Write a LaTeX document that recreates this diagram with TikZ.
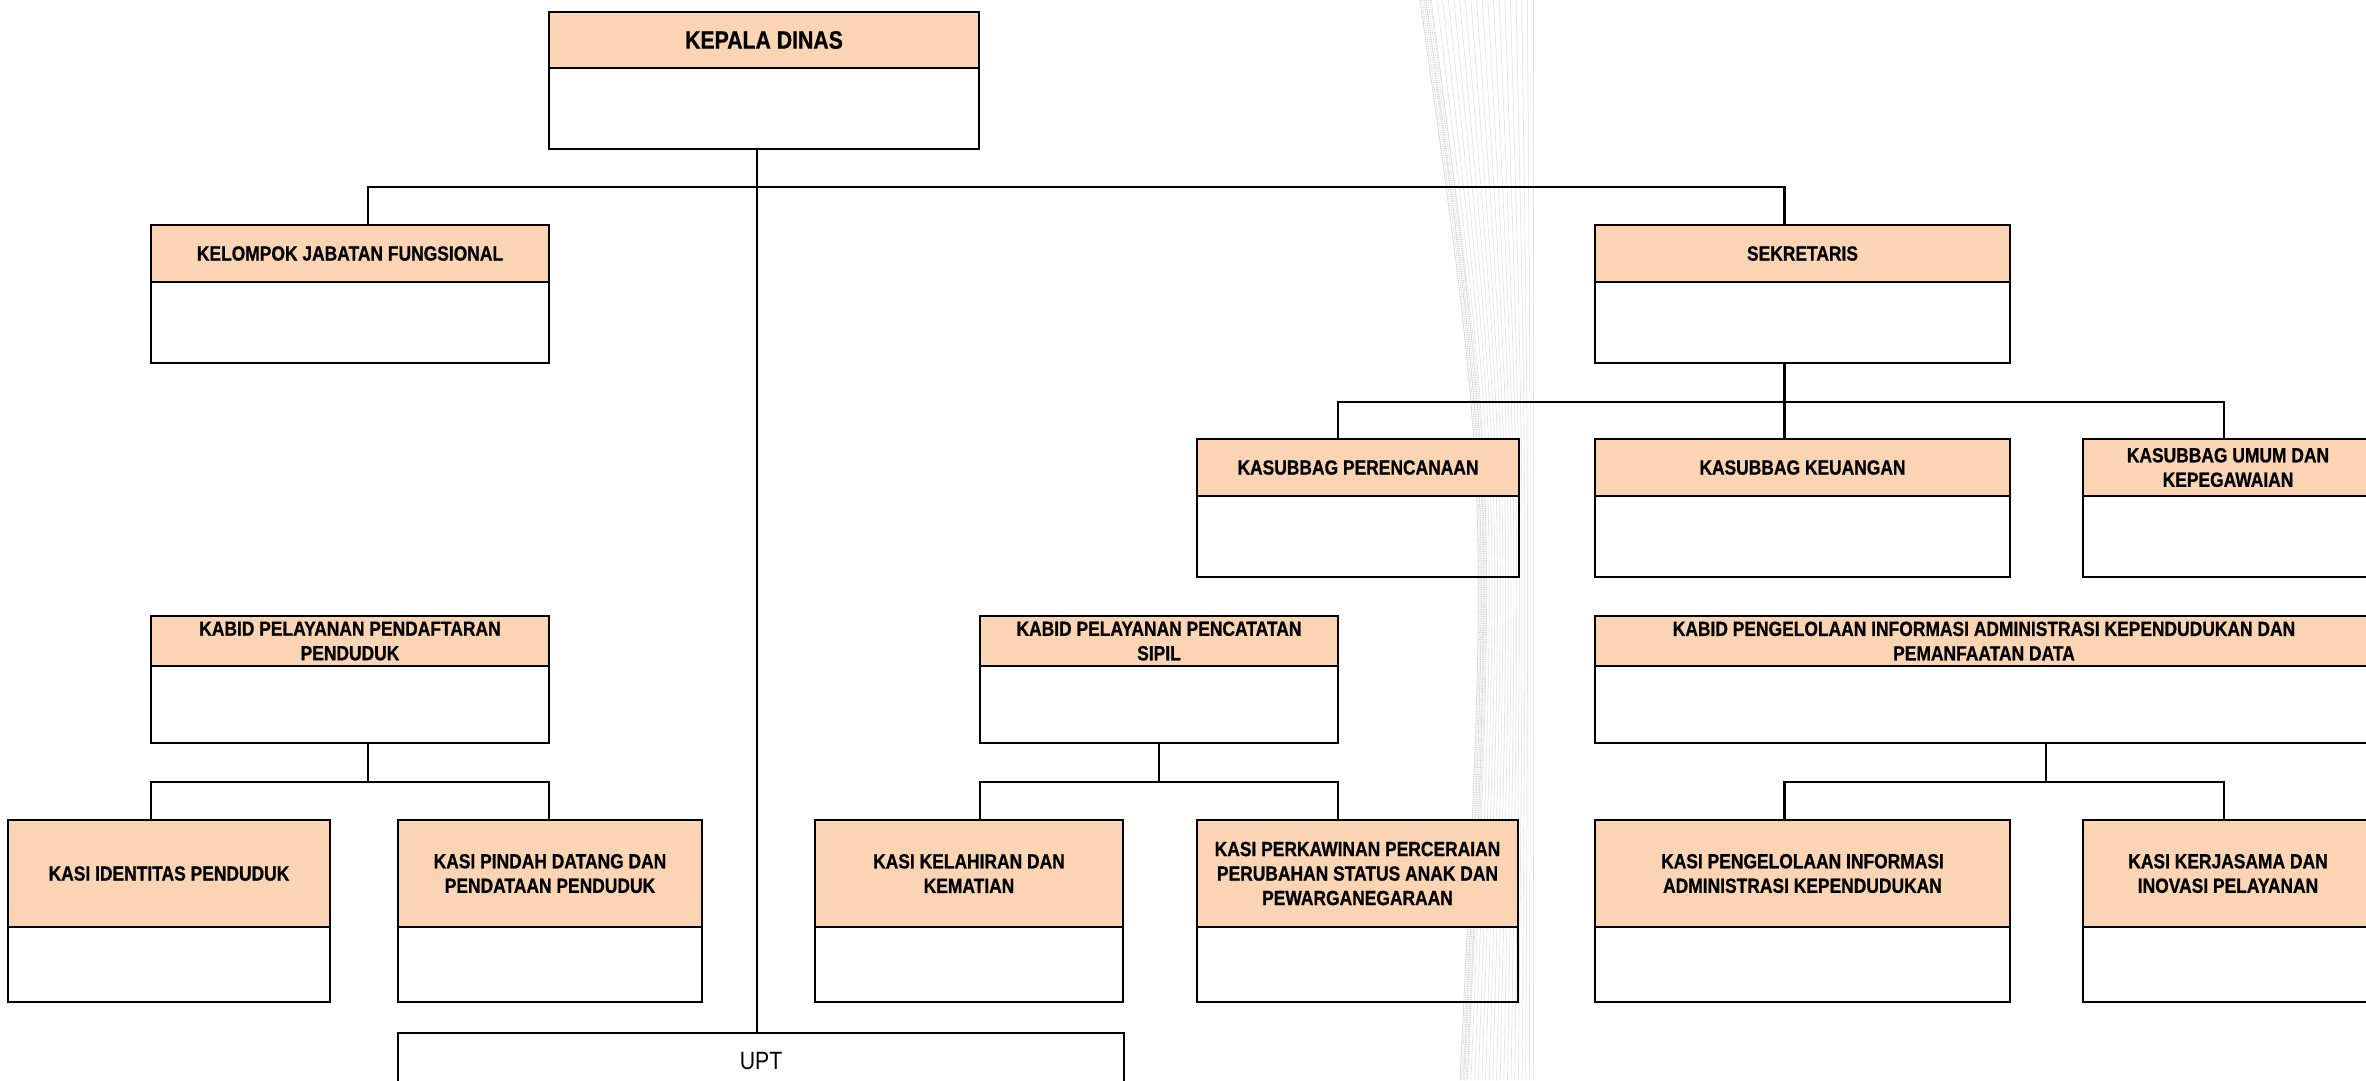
\documentclass[tikz,border=0pt]{standalone}
\usepackage{fontspec}
\newfontfamily\boxfont{Liberation Sans}[FakeStretch=0.85,BoldFeatures={FakeBold=0.8}]
\usetikzlibrary{positioning}
\definecolor{peach}{HTML}{FBD4B4}
\begin{document}
\begin{tikzpicture}[x=1pt,y=-1pt,line width=2.4pt,
  head/.style={draw,fill=peach,anchor=north west,align=center,inner sep=0pt,outer sep=0pt,
    font=\boxfont\bfseries\fontsize{20.5}{24.5}\selectfont},
  body/.style={draw,inner sep=0pt,outer sep=0pt},
  wmark/.style={gray!22,line width=0.7pt}]

\useasboundingbox (0,0) rectangle (2366,1080);
\fill[white] (0,0) rectangle (2366,1080);
\clip (0,0) rectangle (2366,1080);

%watermark
\foreach \i in {0,...,20}{
  \pgfmathsetmacro{\wt}{\i/20}
  \pgfmathsetmacro{\xa}{1420+113*\wt}
  \pgfmathsetmacro{\xc}{1489+44*\wt}
  \pgfmathsetmacro{\xb}{1460+73*\wt}
  \draw[wmark] (\xa,0) .. controls (\xc,487) .. (\xb,1080);
}
\foreach \i in {0,...,5}{
  \pgfmathsetmacro{\xa}{1420+2*\i}
  \pgfmathsetmacro{\xc}{1489+1.5*\i}
  \pgfmathsetmacro{\xb}{1460+1.5*\i}
  \draw[gray!35,line width=0.8pt,densely dotted] (\xa,0) .. controls (\xc,487) .. (\xb,1080);
}

%KEPALA DINAS
\node[head,minimum width=430pt,minimum height=56pt,font=\boxfont\bfseries\fontsize{25}{30}\selectfont] (kd) at (549,12) {KEPALA DINAS};
\node[body,minimum width=430pt,minimum height=81pt,below=0pt of kd] (kd-b) {};

%baris 1
\node[head,minimum width=398pt,minimum height=57pt] (kjf) at (151,225) {KELOMPOK JABATAN FUNGSIONAL};
\node[body,minimum width=398pt,minimum height=81pt,below=0pt of kjf] (kjf-b) {};
\node[head,minimum width=415pt,minimum height=57pt] (sek) at (1595,225) {SEKRETARIS};
\node[body,minimum width=415pt,minimum height=81pt,below=0pt of sek] (sek-b) {};

%baris 2
\node[head,minimum width=322pt,minimum height=57pt] (per) at (1197,439) {KASUBBAG PERENCANAAN};
\node[body,minimum width=322pt,minimum height=81pt,below=0pt of per] (per-b) {};
\node[head,minimum width=415pt,minimum height=57pt] (keu) at (1595,439) {KASUBBAG KEUANGAN};
\node[body,minimum width=415pt,minimum height=81pt,below=0pt of keu] (keu-b) {};
\node[head,minimum width=290pt,minimum height=57pt] (umum) at (2083,439) {KASUBBAG UMUM DAN\\KEPEGAWAIAN};
\node[body,minimum width=290pt,minimum height=81pt,below=0pt of umum] (umum-b) {};

%baris 3
\node[head,minimum width=398pt,minimum height=50pt] (kpp) at (151,616) {KABID PELAYANAN PENDAFTARAN\\PENDUDUK};
\node[body,minimum width=398pt,minimum height=77pt,below=0pt of kpp] (kpp-b) {};
\node[head,minimum width=358pt,minimum height=50pt] (kpc) at (980,616) {KABID PELAYANAN PENCATATAN\\SIPIL};
\node[body,minimum width=358pt,minimum height=77pt,below=0pt of kpc] (kpc-b) {};
\node[head,minimum width=778pt,minimum height=50pt] (kpi) at (1595,616) {KABID PENGELOLAAN INFORMASI ADMINISTRASI KEPENDUDUKAN DAN\\PEMANFAATAN DATA};
\node[body,minimum width=778pt,minimum height=77pt,below=0pt of kpi] (kpi-b) {};

%baris 4
\node[head,minimum width=322pt,minimum height=107pt] (idn) at (8,820) {KASI IDENTITAS PENDUDUK};
\node[body,minimum width=322pt,minimum height=75pt,below=0pt of idn] (idn-b) {};
\node[head,minimum width=304pt,minimum height=107pt] (pdh) at (398,820) {KASI PINDAH DATANG DAN\\PENDATAAN PENDUDUK};
\node[body,minimum width=304pt,minimum height=75pt,below=0pt of pdh] (pdh-b) {};
\node[head,minimum width=308pt,minimum height=107pt] (lhr) at (815,820) {KASI KELAHIRAN DAN\\KEMATIAN};
\node[body,minimum width=308pt,minimum height=75pt,below=0pt of lhr] (lhr-b) {};
\node[head,minimum width=321pt,minimum height=107pt] (kwn) at (1197,820) {KASI PERKAWINAN PERCERAIAN\\PERUBAHAN STATUS ANAK DAN\\PEWARGANEGARAAN};
\node[body,minimum width=321pt,minimum height=75pt,below=0pt of kwn] (kwn-b) {};
\node[head,minimum width=415pt,minimum height=107pt] (pia) at (1595,820) {KASI PENGELOLAAN INFORMASI\\ADMINISTRASI KEPENDUDUKAN};
\node[body,minimum width=415pt,minimum height=75pt,below=0pt of pia] (pia-b) {};
\node[head,minimum width=290pt,minimum height=107pt] (krj) at (2083,820) {KASI KERJASAMA DAN\\INOVASI PELAYANAN};
\node[body,minimum width=290pt,minimum height=75pt,below=0pt of krj] (krj-b) {};

%UPT
\node[head,fill=none,minimum width=726pt,minimum height=56pt,font=\boxfont\fontsize{25}{30}\selectfont] (upt) at (398,1033) {UPT};

%garis
\coordinate (j-top) at (757,187);
\coordinate (j-sek) at (1784,402);
\coordinate (j-kpp) at (368,782);
\coordinate (j-kpi) at (2046,782);

\draw ([xshift=-7pt]kd-b.south) -- ([xshift=-4pt]upt.north);
\draw ([xshift=18pt]kjf.north) |- (j-top) -| ([xshift=-18pt]sek.north);

\draw ([xshift=-18pt]sek-b.south) -- ([xshift=-18pt]keu.north);
\draw ([xshift=-20pt]per.north) |- (j-sek) -| ([xshift=-4pt]umum.north);

\draw ([xshift=18pt]kpp-b.south) -- (j-kpp);
\draw (idn.north -| kpp.west) |- (j-kpp) -| (pdh.north -| kpp.east);

\draw (kpc-b.south) -- (kpc-b.south |- j-kpp);
\draw (lhr.north -| kpc.west) |- (kpc-b.south |- j-kpp) -| (kwn.north -| kpc.east);

\draw ([xshift=62pt]kpi-b.south) -- (j-kpi);
\draw ([xshift=-18pt]pia.north) |- (j-kpi) -| ([xshift=-4pt]krj.north);
\end{tikzpicture}
\end{document}
